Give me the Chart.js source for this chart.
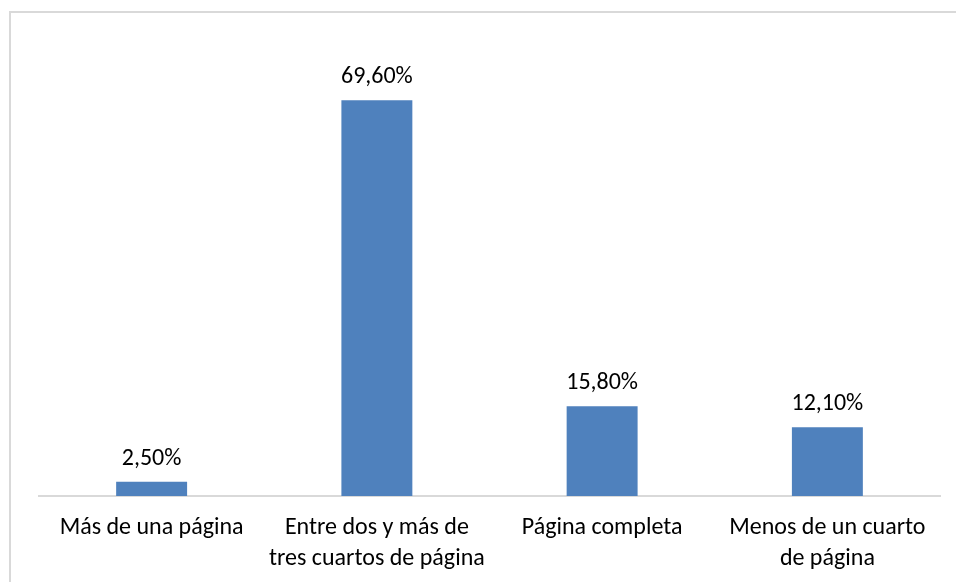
<!DOCTYPE html>
<html><head><meta charset="utf-8">
<script src="https://cdn.jsdelivr.net/npm/chart.js@4"></script>
<style>html,body{margin:0;padding:0;background:#fff}#w{width:956px;height:582px;position:relative}</style>
</head><body><div id="w"><canvas id="c"></canvas></div>
<script>
const categories = [["Más de una página"], ["Entre dos y más de", "tres cuartos de página"], ["Página completa"], ["Menos de un cuarto", "de página"]];
const values = [2.5, 69.6, 15.8, 12.1];
const valueLabels = ["2,50%", "69,60%", "15,80%", "12,10%"];
const FONT = "Carlito, Lato, 'Open Sans', sans-serif";

const framePlugin = {
  id: 'frame',
  beforeDraw(chart) {
    const ctx = chart.ctx;
    ctx.save();
    ctx.strokeStyle = '#d9d9d9';
    ctx.lineWidth = 2;
    ctx.beginPath();
    ctx.moveTo(10, 600); ctx.lineTo(10, 12); ctx.lineTo(970, 12);
    ctx.stroke();
    ctx.restore();
  }
};
const labelPlugin = {
  id: 'vlabels',
  afterDatasetsDraw(chart) {
    const ctx = chart.ctx;
    const meta = chart.getDatasetMeta(0);
    ctx.save();
    ctx.font = "24px " + FONT;
    ctx.fillStyle = '#000';
    ctx.textAlign = 'center';
    ctx.textBaseline = 'middle';
    meta.data.forEach((bar, i) => {
      ctx.fillText(valueLabels[i], bar.x, bar.y - 23);
    });
    ctx.restore();
  }
};

new Chart(document.getElementById('c'), {
  type: 'bar',
  data: {
    labels: categories,
    datasets: [{ data: values, backgroundColor: '#4f81bd', barPercentage: 0.315, categoryPercentage: 1 }]
  },
  options: {
    responsive: true, maintainAspectRatio: false, animation: false,
    layout: { padding: { left: 39, right: 16, top: 41, bottom: 0 } },
    plugins: { legend: { display: false }, tooltip: { enabled: false } },
    scales: {
      y: { display: false, min: 0, max: 80 },
      x: {
        grid: { display: false },
        border: { color: '#d9d9d9', width: 2 },
        ticks: { color: '#000', font: { size: 24, family: FONT, lineHeight: 1.3 }, padding: 8, maxRotation: 0, autoSkip: false },
        afterFit(scale) { scale.height = 86; }
      }
    }
  },
  plugins: [framePlugin, labelPlugin]
});
</script></body></html>
